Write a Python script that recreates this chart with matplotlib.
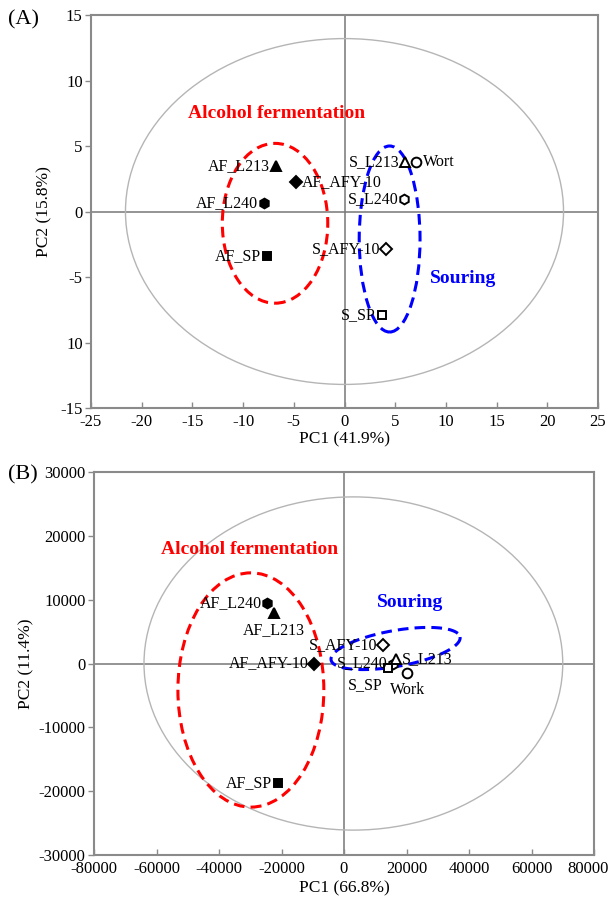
import numpy as np
import matplotlib
matplotlib.use("Agg")
import matplotlib.pyplot as plt
from matplotlib.patches import Ellipse
from matplotlib.transforms import ScaledTranslation

plt.rcParams['font.family'] = ['Liberation Serif', 'DejaVu Serif']

# ---------------- Panel A data ----------------
a_names = ["AF_L213", "AF_AFY-10", "AF_L240", "AF_SP",
           "S_L213", "Wort", "S_L240", "S_AFY-10", "S_SP"]
a_pc1 = [-6.75, -4.8, -7.9, -7.6, 6.0, 7.1, 5.9, 4.1, 3.7]
a_pc2 = [3.5, 2.25, 0.65, -3.4, 3.8, 3.8, 0.95, -2.9, -7.9]
a_markers = ["^", "D", "h", "s", "^", "o", "h", "D", "s"]
a_filled = [True, True, True, True, False, False, False, False, False]
a_label_side = ["left", "right", "left", "left", "left", "right", "left", "left", "left"]
a_xticks = [-25, -20, -15, -10, -5, 0, 5, 10, 15, 20, 25]
a_yticks = [15, 10, 5, 0, -5, -10, -15]
a_yticklabels = ["15", "10", "5", "0", "-5", "10", "-15"]

# ---------------- Panel B data ----------------
b_names = ["AF_L240", "AF_L213", "AF_AFY-10", "AF_SP",
           "S_AFY-10", "S_L240", "S_L213", "S_SP", "Work"]
b_pc1 = [-24600, -22400, -9600, -21100, 12500, 15700, 16600, 14100, 20200]
b_pc2 = [9500, 7900, 0, -18700, 2900, 0, 700, -700, -1500]
b_markers = ["h", "^", "D", "s", "D", "h", "^", "s", "o"]
b_filled = [True, True, True, True, False, False, False, False, False]
b_label_side = ["left", "below", "left", "left", "left", "left", "right", "belowleft", "below"]
b_xticks = [-80000, -60000, -40000, -20000, 0, 20000, 40000, 60000, 80000]
b_yticks = [30000, 20000, 10000, 0, -10000, -20000, -30000]

fig = plt.figure(figsize=(6.10, 9.02), dpi=100)

GRAY = "#8a8a8a"

def style_axes(ax):
    for s in ax.spines.values():
        s.set_color(GRAY)
        s.set_linewidth(1.5)
    ax.tick_params(axis='x', direction='in', length=4, color=GRAY, width=1,
                   labelsize=12, pad=4, top=False)
    ax.tick_params(axis='y', direction='out', length=4, color=GRAY, width=1,
                   labelsize=12, pad=2, right=False)
    ax.axhline(0, color="#777777", lw=1.1, zorder=1)
    ax.axvline(0, color="#777777", lw=1.1, zorder=1)

def draw_points(ax, xs, ys, markers, filled, names, sides, dx, dy):
    for x, y, m, f, n, s in zip(xs, ys, markers, filled, names, sides):
        ms = 7 if m != "s" else 6
        if m == "D":
            ms = 6
        ax.plot(x, y, marker=m, ms=ms, mfc="black" if f else "white",
                mec="black", mew=1.4, ls="none", zorder=5)
        if s == "left":
            ax.text(x - dx, y, n, ha="right", va="center", fontsize=11.5, zorder=6)
        elif s == "right":
            ax.text(x + dx, y, n, ha="left", va="center", fontsize=11.5, zorder=6)
        elif s == "belowleft":
            ax.text(x - dx * 0.9, y - dy, n, ha="right", va="top", fontsize=11.5, zorder=6)
        else:
            ax.text(x, y - dy, n, ha="center", va="top", fontsize=11.5, zorder=6)

# ---------------- Panel A ----------------
axA = fig.add_axes([91/610, 1 - 408/902, (598-91)/610, (408-15)/902])
axA.set_xlim(-25, 25)
axA.set_ylim(-15, 15)
style_axes(axA)
axA.set_xticks(a_xticks)
axA.set_xticklabels([str(v) for v in a_xticks])
axA.set_yticks(a_yticks)
axA.set_yticklabels(a_yticklabels)
axA.set_xlabel("PC1 (41.9%)", fontsize=12.5, labelpad=1)
axA.set_ylabel("PC2 (15.8%)", fontsize=12.5)
axA.yaxis.set_label_coords(-0.077, 0.5)
axA.add_patch(Ellipse((0, 0), 43.2, 26.4, fill=False, ec="#b5b5b5", lw=1, zorder=2))
axA.add_patch(Ellipse((-6.85, -0.9), 10.4, 12.2, fill=False, ec="red", lw=2.2,
                      ls=(0, (3.5, 2)), zorder=3))
axA.add_patch(Ellipse((4.45, -2.1), 6.0, 14.2, fill=False, ec="blue", lw=2.2,
                      ls=(0, (3.5, 2)), zorder=3))
draw_points(axA, a_pc1, a_pc2, a_markers, a_filled, a_names, a_label_side, 0.6, 0.7)
axA.text(-15.4, 7.5, "Alcohol fermentation", color="red", fontweight="bold",
         fontsize=14, ha="left", va="center")
axA.text(8.4, -5.15, "Souring", color="blue", fontweight="bold",
         fontsize=14, ha="left", va="center")
fig.text(8/610, 1 - 20/902, "(A)", fontsize=16, ha="left", va="center")

# ---------------- Panel B ----------------
axB = fig.add_axes([94/610, 1 - 855/902, (594-94)/610, (855-472)/902])
axB.set_xlim(-80000, 80000)
axB.set_ylim(-30000, 30000)
style_axes(axB)
axB.set_xticks(b_xticks)
axB.set_xticklabels([str(v) for v in b_xticks])
axB.set_yticks(b_yticks)
axB.set_yticklabels([str(v) for v in b_yticks])
last = axB.get_xticklabels()[-1]
last.set_transform(last.get_transform() + ScaledTranslation(-6/100, 0, fig.dpi_scale_trans))
axB.set_xlabel("PC1 (66.8%)", fontsize=12.5, labelpad=3)
axB.set_ylabel("PC2 (11.4%)", fontsize=12.5)
axB.yaxis.set_label_coords(-0.12, 0.5)
axB.add_patch(Ellipse((3000, 0), 134000, 52200, fill=False, ec="#b5b5b5", lw=1, zorder=2))
axB.add_patch(Ellipse((-29800, -4150), 46700, 36700, fill=False, ec="red", lw=2.2,
                      ls=(0, (3.5, 2)), zorder=3))
t = np.linspace(0, 2*np.pi, 300)
bcx, bcy = 16500, 2350
bx = bcx + 20640*np.cos(t) + 1000*np.sin(t)
by = bcy + 1800*np.cos(t) - 2770*np.sin(t)
axB.plot(bx, by, color="blue", lw=2.2, ls=(0, (3.5, 2)), zorder=3)
draw_points(axB, b_pc1, b_pc2, b_markers, b_filled, b_names, b_label_side, 1800, 1400)
axB.text(-58500, 17800, "Alcohol fermentation", color="red", fontweight="bold",
         fontsize=14, ha="left", va="center")
axB.text(10500, 9500, "Souring", color="blue", fontweight="bold",
         fontsize=14, ha="left", va="center")
fig.text(8/610, 1 - 475/902, "(B)", fontsize=16, ha="left", va="center")

fig.savefig("out.png", dpi=100)
